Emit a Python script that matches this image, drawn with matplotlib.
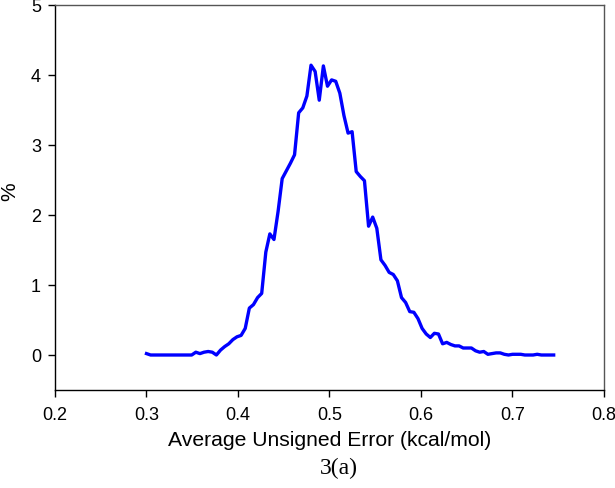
import matplotlib
matplotlib.use("Agg")
import matplotlib.pyplot as plt

aue = [0.3000, 0.3045, 0.3090, 0.3135, 0.3180, 0.3225, 0.3270, 0.3315, 0.3360, 0.3405,
       0.3449, 0.3494, 0.3539, 0.3584, 0.3629, 0.3674, 0.3719, 0.3764, 0.3809, 0.3854,
       0.3899, 0.3944, 0.3989, 0.4034, 0.4079, 0.4124, 0.4169, 0.4214, 0.4259, 0.4304,
       0.4348, 0.4393, 0.4438, 0.4483, 0.4528, 0.4573, 0.4618, 0.4663, 0.4708, 0.4753,
       0.4798, 0.4843, 0.4888, 0.4933, 0.4978, 0.5023, 0.5068, 0.5113, 0.5158, 0.5203,
       0.5247, 0.5292, 0.5337, 0.5382, 0.5427, 0.5472, 0.5517, 0.5562, 0.5607, 0.5652,
       0.5697, 0.5742, 0.5787, 0.5832, 0.5877, 0.5922, 0.5967, 0.6012, 0.6057, 0.6102,
       0.6146, 0.6191, 0.6236, 0.6281, 0.6326, 0.6371, 0.6416, 0.6461, 0.6506, 0.6551,
       0.6596, 0.6641, 0.6686, 0.6731, 0.6776, 0.6821, 0.6866, 0.6911, 0.6956, 0.7001,
       0.7045, 0.7090, 0.7135, 0.7180, 0.7225, 0.7270, 0.7315, 0.7360, 0.7405, 0.7450]

percent = [0.02, 0.00, 0.00, 0.00, 0.00, 0.00, 0.00, 0.00, 0.00, 0.00,
           0.00, 0.00, 0.04, 0.02, 0.04, 0.05, 0.04, 0.00, 0.07, 0.12,
           0.16, 0.22, 0.26, 0.28, 0.38, 0.67, 0.72, 0.82, 0.88, 1.47,
           1.73, 1.65, 2.05, 2.52, 2.63, 2.74, 2.86, 3.46, 3.53, 3.70,
           4.14, 4.05, 3.64, 4.13, 3.84, 3.93, 3.91, 3.74, 3.42, 3.17,
           3.19, 2.62, 2.55, 2.49, 1.84, 1.97, 1.81, 1.36, 1.28, 1.18,
           1.15, 1.06, 0.82, 0.75, 0.62, 0.61, 0.52, 0.38, 0.30, 0.25,
           0.31, 0.30, 0.16, 0.18, 0.15, 0.13, 0.13, 0.10, 0.10, 0.10,
           0.06, 0.04, 0.05, 0.01, 0.02, 0.03, 0.03, 0.01, 0.00, 0.01,
           0.01, 0.01, 0.00, 0.00, 0.00, 0.01, 0.00, 0.00, 0.00, 0.00]

xticks = [0.2, 0.3, 0.4, 0.5, 0.6, 0.7, 0.8]
yticks = [0, 1, 2, 3, 4, 5]

plt.rcParams['font.family'] = ['Liberation Sans', 'DejaVu Sans']

fig = plt.figure(figsize=(6.15, 4.88), dpi=100)
ax = fig.add_axes([55/615, 1 - 390/488, (604 - 55)/615, (390 - 5)/488])

ax.plot(aue, percent, color='#0000ff', linewidth=2.4)

ax.set_xlim(0.2, 0.8)
ax.set_ylim(-0.5, 5)
ax.set_xticks(xticks)
ax.set_xticklabels([f"{t:.1f}" for t in xticks])
ax.set_yticks(yticks)
ax.set_yticklabels([str(t) for t in yticks])
ax.tick_params(direction='out', length=5, width=1, labelsize=13, colors='black',
               top=False, right=False)
ax.tick_params(axis='x', pad=7)
ax.tick_params(axis='y', pad=5)
for s in ['left', 'bottom']:
    ax.spines[s].set_color('black')
    ax.spines[s].set_linewidth(1.0)
for s in ['top', 'right']:
    ax.spines[s].set_color('#555555')
    ax.spines[s].set_linewidth(1.0)

ax.set_xlabel('Average Unsigned Error (kcal/mol)', fontsize=15.2)
ax.xaxis.set_label_coords(0.5, -(431 - 390) / 385)
ax.set_ylabel('%', fontsize=15)
ax.yaxis.set_label_coords(-(55 - 19) / 549, (390 - 192) / 385)

fig.text(339/615, 1 - 468/488, '3(a)', ha='center', va='center',
         fontsize=17, family='Liberation Serif')

fig.savefig('out.png', dpi=100)
